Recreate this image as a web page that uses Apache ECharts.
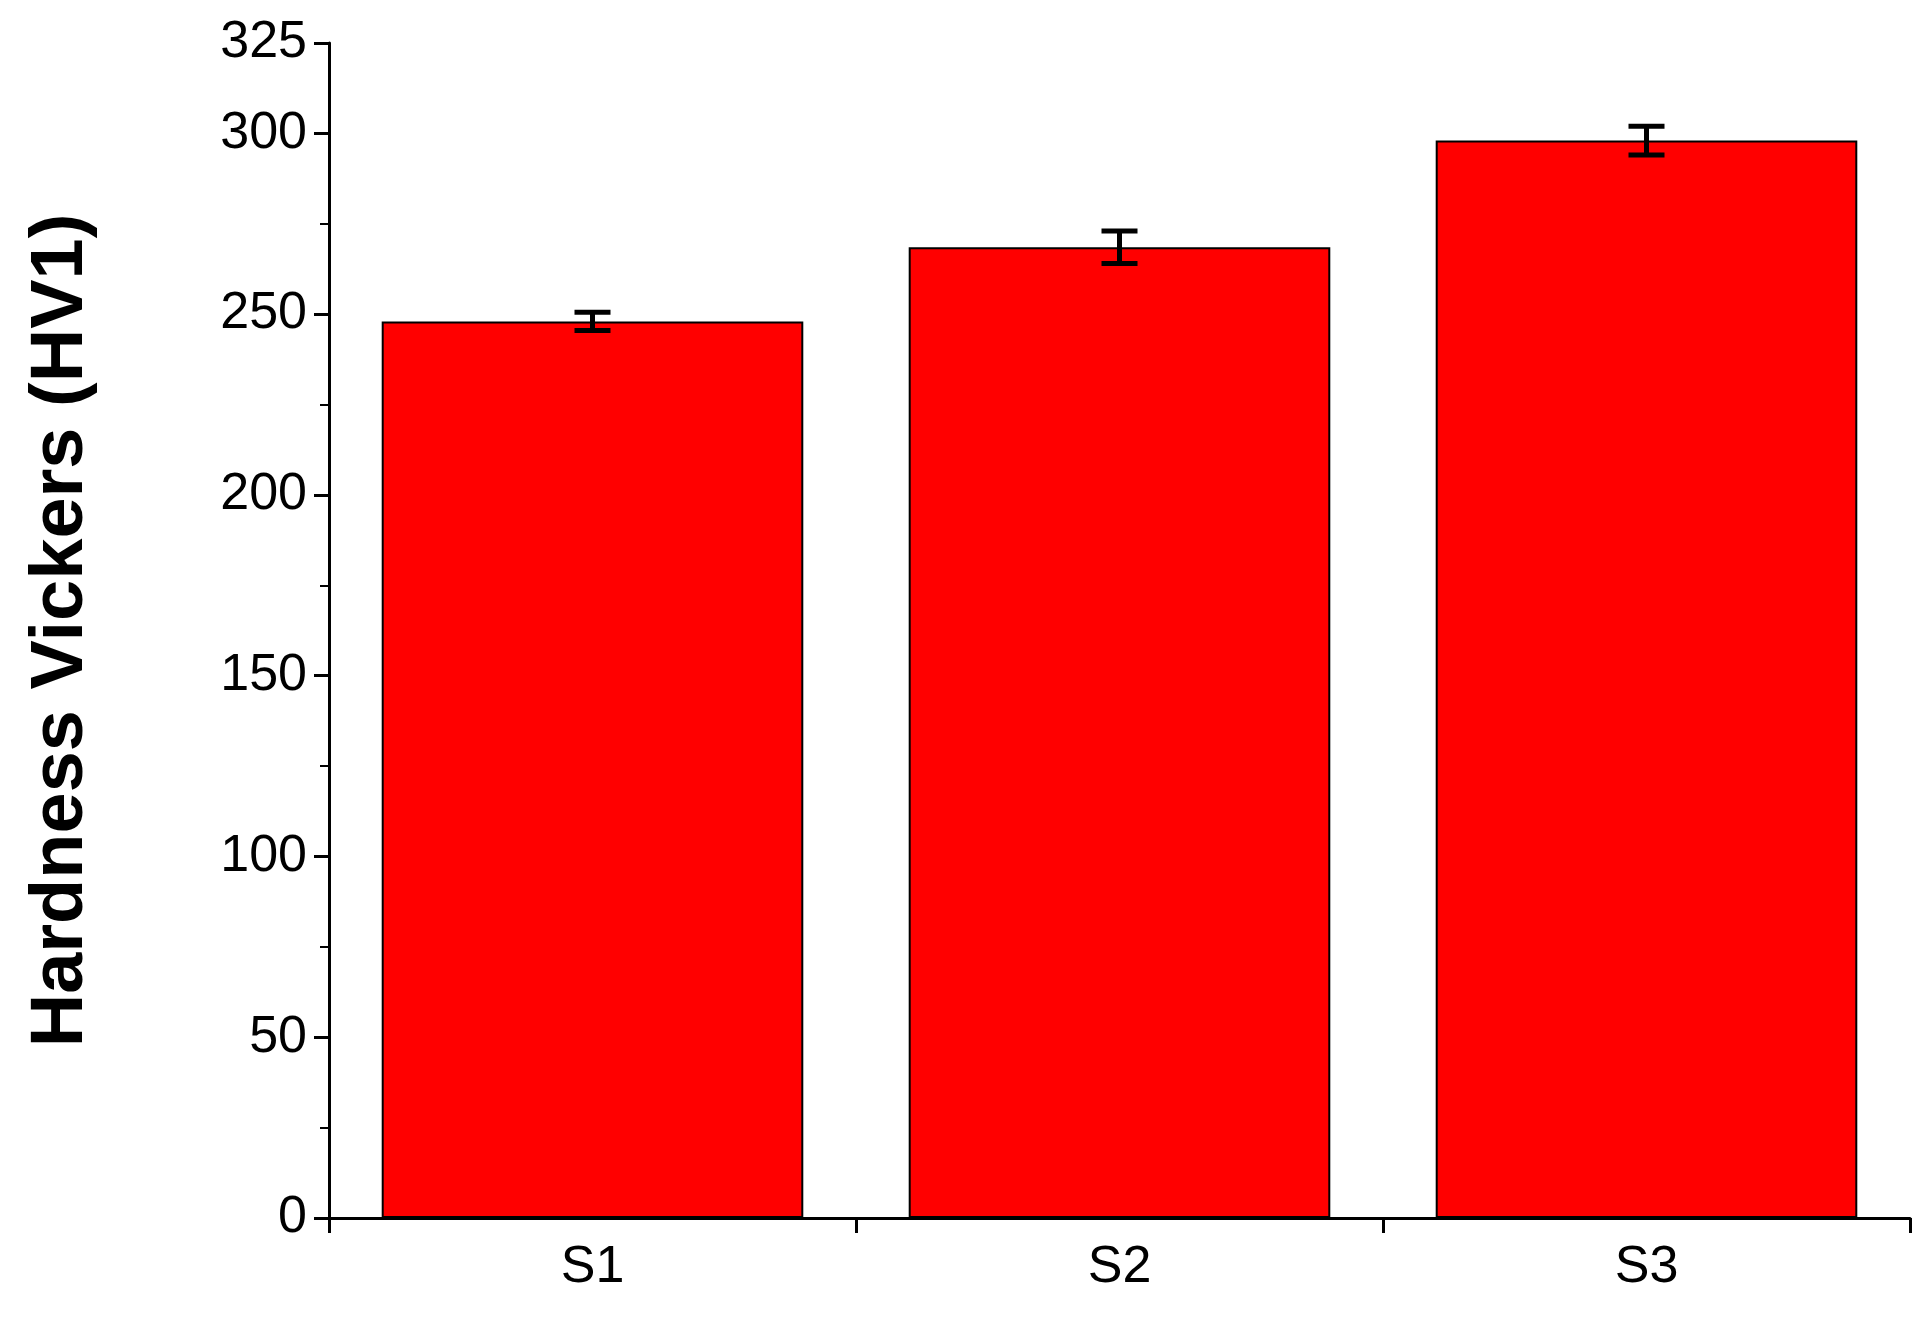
<!DOCTYPE html>
<html>
<head>
<meta charset="utf-8">
<script src="https://cdn.jsdelivr.net/npm/echarts@6/dist/echarts.min.js"></script>
<style>html,body{margin:0;padding:0;background:#fff}#chart{width:1929px;height:1327px}</style>
</head>
<body>
<div id="chart"></div>
<script>
var categories = ['S1', 'S2', 'S3'];
var hardness = [248, 268.5, 298];
var errors = [2.5, 4.5, 4];

var chart = echarts.init(document.getElementById('chart'));
var errData = categories.map(function(c, i){ return [i, hardness[i] - errors[i], hardness[i] + errors[i]]; });

chart.setOption({
  animation: false,
  grid: {left: 329, right: 19, top: 43, bottom: 109},
  xAxis: {
    type: 'category', data: categories, boundaryGap: true,
    axisLine: {lineStyle: {color: '#000', width: 3}},
    axisTick: {show: true, length: 15, lineStyle: {color: '#000', width: 3}, alignWithLabel: false},
    axisLabel: {color: '#000', fontSize: 52, fontFamily: 'Liberation Sans', margin: 24, interval: 0}
  },
  yAxis: {
    type: 'value', min: 0, max: 325, interval: 50,
    name: 'Hardness Vickers (HV1)', nameLocation: 'middle', nameGap: 230,
    nameTextStyle: {color: '#000', fontSize: 74, fontWeight: 'bold', fontFamily: 'Liberation Sans'},
    axisLine: {show: true, lineStyle: {color: '#000', width: 3}},
    axisTick: {show: true, length: 15, lineStyle: {color: '#000', width: 3}},
    minorTick: {show: true, splitNumber: 2, length: 9, lineStyle: {color: '#000', width: 2}},
    splitLine: {show: false},
    axisLabel: {color: '#000', fontSize: 52, fontFamily: 'Liberation Sans', margin: 22}
  },
  series: [{
    type: 'bar', data: hardness, barWidth: '80%',
    itemStyle: {color: '#ff0000', borderColor: '#000', borderWidth: 2}
  }, {
    type: 'custom', data: errData, z: 10,
    renderItem: function(params, api){
      var x = api.value(0);
      var lo = api.coord([x, api.value(1)]);
      var hi = api.coord([x, api.value(2)]);
      var w = 18;
      var st = {stroke: '#000', lineWidth: 5};
      return {type: 'group', children: [
        {type: 'line', shape: {x1: lo[0], y1: lo[1], x2: hi[0], y2: hi[1]}, style: st},
        {type: 'line', shape: {x1: lo[0]-w, y1: lo[1], x2: lo[0]+w, y2: lo[1]}, style: st},
        {type: 'line', shape: {x1: hi[0]-w, y1: hi[1], x2: hi[0]+w, y2: hi[1]}, style: st}
      ]};
    }
  }]
});
</script>
</body>
</html>
